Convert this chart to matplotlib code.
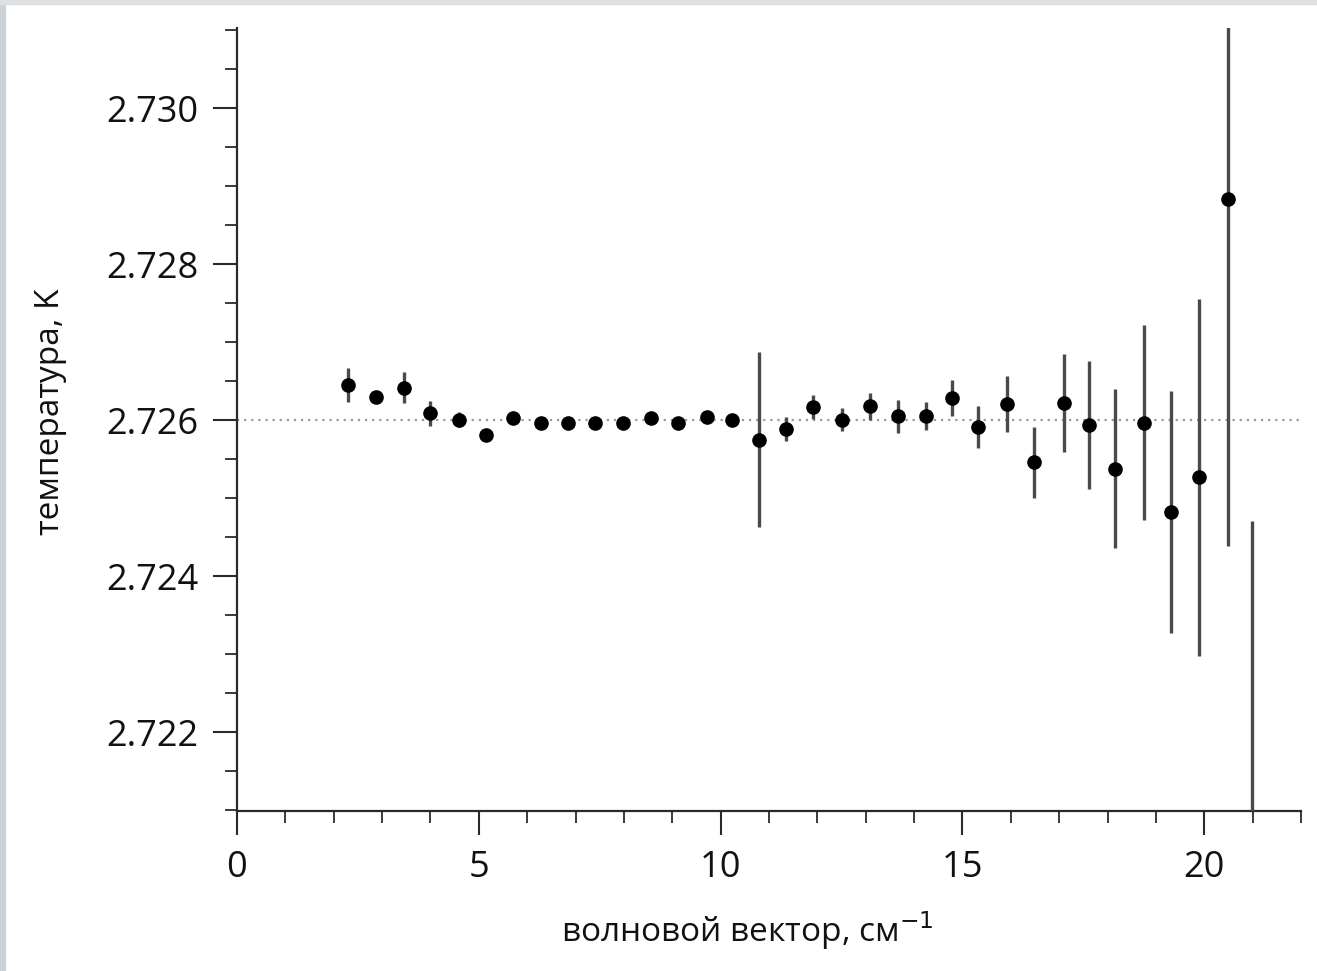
import matplotlib.pyplot as plt
from matplotlib.patches import Rectangle
from matplotlib.ticker import MultipleLocator

plt.rcParams['font.family'] = ['Open Sans', 'DejaVu Sans']

# волновой вектор, см^-1
wavenumber = [2.29, 2.87, 3.45, 3.99, 4.58, 5.14, 5.70, 6.28, 6.84, 7.41,
              7.99, 8.55, 9.11, 9.71, 10.23, 10.79, 11.36, 11.92, 12.50, 13.08,
              13.66, 14.24, 14.79, 15.33, 15.92, 16.48, 17.09, 17.62, 18.16, 18.75,
              19.32, 19.89, 20.50, 20.99]
# температура, K
temperature = [2.72645, 2.72630, 2.72642, 2.72609, 2.72601, 2.72581, 2.72603, 2.72596, 2.72596, 2.72597,
               2.72597, 2.72603, 2.72597, 2.72604, 2.72601, 2.72575, 2.72589, 2.72617, 2.72601, 2.72618,
               2.72605, 2.72606, 2.72629, 2.72591, 2.72621, 2.72546, 2.72622, 2.72594, 2.72538, 2.72597,
               2.72482, 2.72527, 2.72884, 2.71980]
error = [0.00022, 0.00004, 0.00020, 0.00016, 0.00010, 0.00004, 0.00004, 0.00004, 0.00004, 0.00004,
         0.00004, 0.00004, 0.00004, 0.00004, 0.00004, 0.00112, 0.00015, 0.00015, 0.00015, 0.00017,
         0.00021, 0.00018, 0.00023, 0.00027, 0.00036, 0.00046, 0.00063, 0.00082, 0.00102, 0.00125,
         0.00155, 0.00229, 0.00445, 0.00491]
reference_temp = 2.726

fig = plt.figure(figsize=(13.17, 9.71), dpi=100)
fig.patches.append(Rectangle((0, 0), 5 / 1317, 1, transform=fig.transFigure,
                             color='#cdd2d6', zorder=0))
fig.patches.append(Rectangle((0, 1 - 4 / 971), 1, 4 / 971, transform=fig.transFigure,
                             color='#dde0e2', zorder=0))

ax = fig.add_axes([237 / 1317, 1 - 811 / 971, (1301 - 237) / 1317, (811 - 28) / 971])

ax.axhline(reference_temp, color='#9a9a9a', lw=1.6, ls=(0, (1, 2.2)), zorder=1)
ax.errorbar(wavenumber, temperature, yerr=error, fmt='o', color='black',
            ms=9.5, ecolor='#4a4a4a', elinewidth=2.4, capsize=0, zorder=3)

ax.set_xlim(0, 22)
ax.set_ylim(2.72099, 2.73103)
ax.xaxis.set_major_locator(MultipleLocator(5))
ax.xaxis.set_minor_locator(MultipleLocator(1))
ax.yaxis.set_major_locator(MultipleLocator(0.002))
ax.yaxis.set_minor_locator(MultipleLocator(0.0005))
ax.yaxis.set_major_formatter(plt.FormatStrFormatter('%.3f'))

for s in ['top', 'right']:
    ax.spines[s].set_visible(False)
for s in ['left', 'bottom']:
    ax.spines[s].set_linewidth(1.6)
    ax.spines[s].set_color('#2a2a2a')

ax.tick_params(which='major', length=17, width=1.5, color='#2a2a2a',
               labelsize=26, pad=11, labelcolor='#111111')
ax.tick_params(which='minor', length=8.5, width=1.3, color='#2a2a2a')

ax.set_xlabel('волновой вектор, см$^{-1}$', fontsize=24, labelpad=17, color='#111111')
ax.set_ylabel('температура, K', fontsize=24, labelpad=28, color='#111111')
ax.xaxis.label.set_x(0.48)
ax.yaxis.label.set_y(0.51)

fig.savefig('out.png', dpi=100)
